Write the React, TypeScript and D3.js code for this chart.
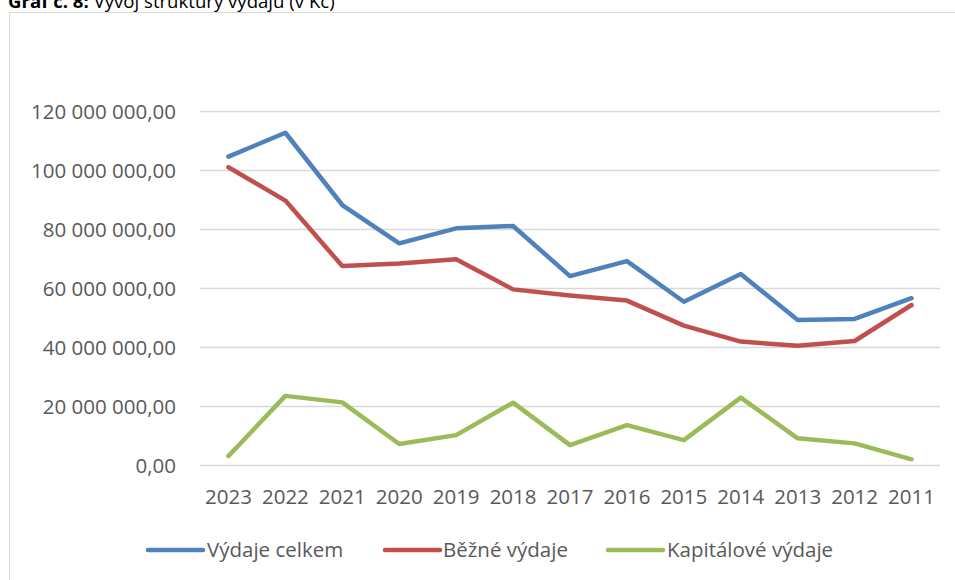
import React from "react";
import * as d3 from "d3";

const years = ["2023","2022","2021","2020","2019","2018","2017","2016","2015","2014","2013","2012","2011"];
const celkem = [104.7,112.8,88.3,75.3,80.4,81.2,64.2,69.3,55.5,64.9,49.3,49.7,56.7].map(v=>v*1e6);
const bezne = [101.1,89.8,67.6,68.5,69.9,59.7,57.6,55.9,47.4,42.0,40.6,42.2,54.4].map(v=>v*1e6);
const kapitalove = [3.2,23.6,21.4,7.3,10.3,21.3,6.9,13.7,8.6,23.0,9.2,7.5,2.1].map(v=>v*1e6);
const yTicks = [0,20e6,40e6,60e6,80e6,100e6,120e6];
const seriesNames = ["Výdaje celkem","Běžné výdaje","Kapitálové výdaje"];
const colors = ["#4F81BD","#C0504D","#9BBB59"];

const fmt = (v:number) => {
  const s = Math.round(v).toString().replace(/\B(?=(\d{3})+(?!\d))/g, " ");
  return s + ",00";
};

export default function App() {
  const W = 955, H = 580;
  const x = d3.scaleBand<string>().domain(years).range([200, 940]);
  const y = d3.scaleLinear().domain([0, 120e6]).range([465.5, 111.5]);
  const line = d3.line<number>().x((_, i) => x(years[i])! + x.bandwidth()/2).y(d => y(d));
  const data = [celkem, bezne, kapitalove];
  const font = "'Open Sans', sans-serif";
  const legend = [
    { lx: 148, tx: 207 },
    { lx: 385, tx: 443 },
    { lx: 608, tx: 667 },
  ];
  return (
    <svg width={W} height={H} style={{position:"absolute", left:0, top:0}} fontFamily={font}>
      <rect x={0} y={0} width={W} height={H} fill="#fff"/>
      <text x={8} y={7.5} fontSize={18.6} fill="#000">
        <tspan fontWeight="bold">Graf č. 8:</tspan>
        <tspan> Vývoj struktury výdajů (v Kč)</tspan>
      </text>
      <rect x={9.5} y={12.5} width={1000} height={700} fill="#fff" stroke="#D9D9D9" strokeWidth={1}/>
      {yTicks.map(t => (
        <g key={t}>
          <line x1={200} x2={940} y1={y(t)} y2={y(t)} stroke="#D9D9D9" strokeWidth={1.3}/>
          <text x={176} y={y(t)} dy="0.35em" textAnchor="end" fontSize={20.5} fill="#595959">{fmt(t)}</text>
        </g>
      ))}
      {years.map(yr => (
        <text key={yr} x={x(yr)! + x.bandwidth()/2} y={504} textAnchor="middle" fontSize={20.5} fill="#595959">{yr}</text>
      ))}
      {data.map((d, i) => (
        <path key={i} d={line(d)!} fill="none" stroke={colors[i]} strokeWidth={4.5} strokeLinecap="round" strokeLinejoin="round"/>
      ))}
      {seriesNames.map((n, i) => (
        <g key={n}>
          <line x1={legend[i].lx} x2={legend[i].lx + 55} y1={550} y2={550} stroke={colors[i]} strokeWidth={4.5} strokeLinecap="round"/>
          <text x={legend[i].tx} y={557} fontSize={20.5} fill="#595959">{n}</text>
        </g>
      ))}
    </svg>
  );
}
